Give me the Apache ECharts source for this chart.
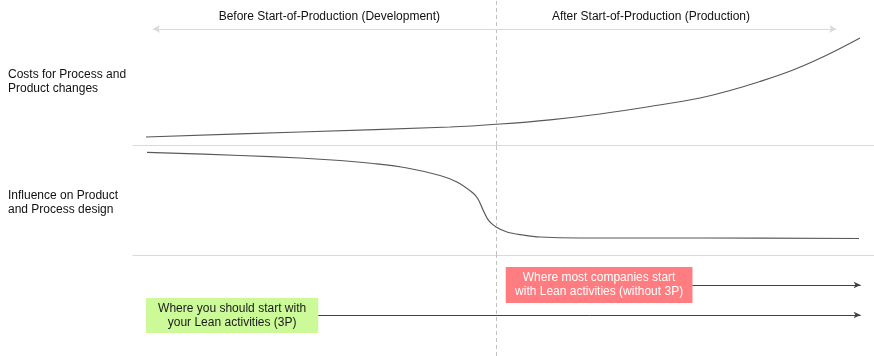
<!DOCTYPE html>
<html><head><meta charset="utf-8">
<script src="https://cdn.jsdelivr.net/npm/echarts@6/dist/echarts.min.js"></script>
<style>html,body{margin:0;padding:0;background:#fff}#c{width:874px;height:356px}</style>
</head><body><div id="c"></div>
<script>
// Time axis (0..100), Start-of-Production at 49
const SOP = 49;
const phaseLabels = ['Before Start-of-Production (Development)', 'After Start-of-Production (Production)'];
const rowLabels = ['Costs for Process and\nProduct changes', 'Influence on Product\nand Process design'];
const costX = [1.75, 22.54, 42.78, 49.53, 56.28, 63.02, 69.77, 76.52, 80.57, 84.62, 89.07, 93.66, 98.11];
const costY = [5.52, 8.97, 12.41, 14.48, 17.38, 21.38, 26.55, 32.41, 37.59, 43.79, 51.72, 62.07, 73.79];
const inflX = [1.89, 14.44, 22.54, 27.94, 32.39, 36.98, 41.43, 43.72, 45.88, 46.56, 47.37, 48.04, 48.99, 50.47, 52.63, 54.93, 60.32, 76.52, 97.98];
const inflY = [93.36, 90.45, 88.18, 85.91, 83.18, 79.09, 72.27, 66.36, 56.36, 50.91, 39.09, 30.91, 25.45, 20.91, 18.18, 16.36, 15.45, 15.45, 15.0];
const boxTexts = ['Where most companies start\nwith Lean activities (without 3P)', 'Where you should start with\nyour Lean activities (3P)'];
const boxStart = [50.3, 1.75];
const boxEnd = [75.5, 25.0];
const boxTop = [88.1, 57.4];
const boxBottom = [52.5, 22.8];
const arrowLevel = [70.3, 40.6];
const arrowEnd = 98.2;
const phaseArrow = [2.7, 94.9, 80];

const FONT = 'Liberation Sans, Arial, sans-serif';
const dashStyle = {type: [4, 3], color: '#c0c0c0', width: 1};
function xAx(i, showLine) {
  return {type: 'value', gridIndex: i, min: 0, max: 100, show: true,
    axisLine: {show: showLine, lineStyle: {color: '#d9d9d9', width: 1}},
    axisTick: {show: false}, axisLabel: {show: false}, splitLine: {show: false}};
}
function yAx(i) {
  return {type: 'value', gridIndex: i, min: 0, max: 100, show: false};
}
const chart = echarts.init(document.getElementById('c'), null, {renderer: 'canvas'});
chart.setOption({
  animation: false,
  textStyle: {fontFamily: FONT},
  grid: [
    {left: 133, right: 0, top: 0, height: 145},
    {left: 133, right: 0, top: 145, height: 110},
    {left: 133, right: 0, top: 255, height: 101}
  ],
  xAxis: [xAx(0, true), xAx(1, true), xAx(2, false)],
  yAxis: [yAx(0), yAx(1), yAx(2)],
  graphic: [
    {type: 'text', left: 8, top: 68, style: {text: rowLabels[0], font: '12px ' + FONT, fill: '#111', lineHeight: 14}},
    {type: 'text', left: 8, top: 189, style: {text: rowLabels[1], font: '12px ' + FONT, fill: '#111', lineHeight: 14}}
  ],
  series: [
    {
      type: 'line', xAxisIndex: 0, yAxisIndex: 0, smooth: 0.35, symbol: 'none',
      lineStyle: {color: '#595959', width: 1.2},
      data: costX.map((x, i) => [x, costY[i]]),
      markLine: {
        silent: true, symbol: 'none',
        data: [
          {xAxis: SOP, lineStyle: dashStyle},
          [
            {coord: [phaseArrow[0], phaseArrow[2]], symbol: 'arrow', symbolSize: [6, 7]},
            {coord: [phaseArrow[1], phaseArrow[2]], symbol: 'arrow', symbolSize: [6, 7],
             lineStyle: {type: 'solid', color: '#d9d9d9', width: 1}}
          ]
        ],
        lineStyle: {color: '#d9d9d9', width: 1, type: 'solid'},
        label: {show: false}
      },
      markPoint: {
        silent: true, symbolSize: 0,
        label: {show: true, position: 'inside', color: '#111', fontSize: 12, fontFamily: FONT},
        data: [
          {coord: [26.5, 88.3], value: phaseLabels[0], label: {formatter: phaseLabels[0]}},
          {coord: [69.9, 88.3], value: phaseLabels[1], label: {formatter: phaseLabels[1]}}
        ]
      }
    },
    {
      type: 'line', xAxisIndex: 1, yAxisIndex: 1, smooth: 0.35, symbol: 'none',
      lineStyle: {color: '#595959', width: 1.2},
      data: inflX.map((x, i) => [x, inflY[i]]),
      markLine: {silent: true, symbol: 'none', label: {show: false}, lineStyle: dashStyle, data: [{xAxis: SOP}]}
    },
    {
      type: 'line', xAxisIndex: 2, yAxisIndex: 2, symbol: 'none', data: [],
      markLine: {
        silent: true, symbol: 'none',
        label: {show: false},
        data: [
          {xAxis: SOP, lineStyle: dashStyle},
          [
            {coord: [boxEnd[0], arrowLevel[0]], symbol: 'none'},
            {coord: [arrowEnd, arrowLevel[0]], symbol: 'arrow', symbolSize: [5, 7]}
          ],
          [
            {coord: [boxEnd[1], arrowLevel[1]], symbol: 'none'},
            {coord: [arrowEnd, arrowLevel[1]], symbol: 'arrow', symbolSize: [5, 7]}
          ]
        ],
        lineStyle: {color: '#404040', width: 1, type: 'solid'}
      },
      markArea: {
        silent: true,
        data: [
          [
            {coord: [boxStart[0], boxTop[0]], itemStyle: {color: '#ff7c80'},
             label: {show: true, position: 'inside', formatter: boxTexts[0], color: '#fff', fontSize: 12, lineHeight: 14, fontFamily: FONT, align: 'center'}},
            {coord: [boxEnd[0], boxBottom[0]]}
          ],
          [
            {coord: [boxStart[1], boxTop[1]], itemStyle: {color: '#ccfa99'},
             label: {show: true, position: 'inside', formatter: boxTexts[1], color: '#1a1a1a', fontSize: 12, lineHeight: 14, fontFamily: FONT, align: 'center'}},
            {coord: [boxEnd[1], boxBottom[1]]}
          ]
        ]
      }
    }
  ]
});
</script></body></html>
